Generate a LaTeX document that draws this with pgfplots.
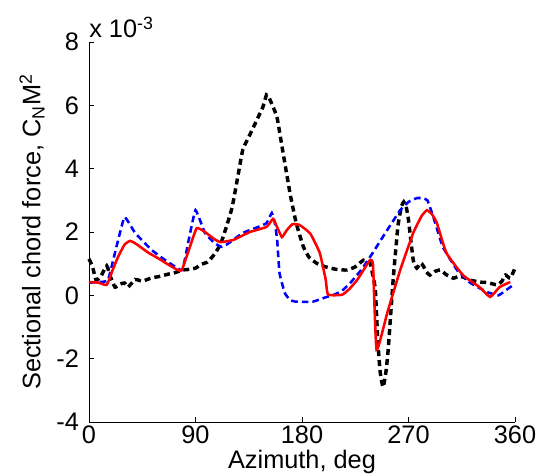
\documentclass[border=0pt]{standalone}
\usepackage{pgfplots}
\pgfplotsset{compat=1.18}
\usepackage{fontspec}
\setmainfont{Liberation Sans}
\begin{document}
\fontsize{19}{22}\selectfont
\begin{tikzpicture}
\begin{axis}[
  at={(0,0)}, anchor=south west,
  scale only axis, width=319.5pt, height=285pt,
  xmin=0, xmax=360, ymin=-4, ymax=8,
  axis x line*=bottom, axis y line*=left,
  axis line style={-, line width=0.5pt},
  xtick={0,90,180,270,360}, ytick={-4,-2,0,2,4,6,8},
  tick align=inside, major tick length=4pt,
  tick style={black, line width=0.5pt},
  /pgf/number format/assume math mode=true,
  ticklabel style={font=\fontsize{19}{22}\selectfont},
  xticklabel style={inner sep=1pt, yshift=-1.5pt},
  yticklabel style={xshift=-1pt},
  label style={font=\fontsize{19}{22}\selectfont},
  xlabel={Azimuth, deg},
  ylabel={Sectional chord force, C\textsubscript{N}M\textsuperscript{2}},
  xlabel style={inner sep=1pt, yshift=-3pt},
  ylabel style={yshift=-4pt},
  clip=false,
]
\addplot[black, line width=2.6pt, dash pattern=on 4.5pt off 3pt, smooth, tension=0.3] coordinates {
(0,1.15) (3,0.9) (6,0.48) (10,0.6) (15,0.93) (18,0.6) (22,0.26) (26,0.35) (30,0.39) (33,0.26) (39,0.5) (45,0.45) (53,0.55) (60,0.6) (67,0.67) (73,0.72) (79,0.8) (85,0.82) (90,0.86) (95,0.98) (100,1.05) (105,1.25) (111,1.6) (116,2.15) (121,2.79) (126,3.8) (130,4.6) (135,5.0) (139,5.31) (144.5,5.75) (147,5.95) (150,6.33) (152,6.25) (155,6.0) (159,5.6) (164,4.5) (170,3.2) (175,2.3) (181,1.55) (186,1.2) (193,1.0) (200,0.9) (209,0.82) (218,0.8) (225,0.9) (232,1.11) (237.5,1.02) (240,0.6) (242,0.17) (244,-1.41) (246,-2.4) (248.5,-2.9) (251,-2.4) (253,-1.64) (257,0.48) (261,2.16) (264,2.8) (266,2.95) (268,2.8) (270,2.38) (274,1.11) (277,0.86) (280,1.02) (282,0.96) (285,0.75) (288,0.64) (292,0.75) (297,0.8) (302,0.65) (308,0.54) (312,0.6) (316,0.58) (322,0.48) (330,0.42) (337,0.4) (345,0.33) (349,0.45) (352,0.64) (356,0.54) (360,0.86)
};
\addplot[blue, line width=1.9pt, dash pattern=on 5pt off 3pt, smooth, tension=0.2] coordinates {
(0,0.4) (8,0.42) (16,0.48) (23,1.5) (30,2.47) (39,1.97) (53,1.43) (63,1.15) (73,0.9) (79,0.8) (84,1.7) (90,2.69) (98,1.97) (106,1.65) (112,1.53) (117,1.62) (130,1.97) (143,2.16) (150,2.28) (154.5,2.6) (157,2.3) (159,1.75) (161,0.7) (165.5,0.07) (170,-0.15) (175,-0.2) (189,-0.2) (201,-0.05) (206,0) (214,0.15) (221,0.4) (230,0.8) (237.5,1.21) (245,1.65) (252,2.06) (263,2.69) (270,2.95) (277,3.07) (282,3.07) (286,3.0) (291,2.47) (299,1.53) (311,0.8) (322,0.4) (336,0.11) (346,0) (356,0.26) (360,0.35)
};
\addplot[red, line width=1.9pt, smooth, tension=0.25] coordinates {
(0,0.42) (8,0.4) (15,0.33) (20,0.8) (24.5,1.21) (30,1.6) (34.7,1.72) (40,1.62) (50,1.35) (58,1.18) (67,0.97) (75,0.8) (78.5,0.8) (85,1.5) (91,2.12) (98,2.0) (105,1.8) (111,1.68) (122,1.75) (136,2.0) (150,2.16) (155.5,2.41) (159,2.15) (163,1.84) (167,2.05) (172,2.25) (178,2.22) (187,1.95) (195,1.34) (200,0.5) (202,0.02) (214,0.02) (220,0.2) (226.5,0.48) (232,0.8) (237.5,1.11) (240,0.96) (243,-1.72) (252,-0.56) (263,0.8) (274,1.97) (281,2.5) (285.6,2.69) (290,2.55) (294,2.28) (302,1.34) (316,0.64) (330,0.26) (339,-0.05) (347,0.26) (356,0.42)
};
\node[anchor=base west, inner sep=0pt] at ([yshift=3pt]rel axis cs:0,1) {x 10\textsuperscript{-3}};
\end{axis}
\pgfresetboundingbox
\path[use as bounding box] (-66.75pt,-39.75pt) rectangle (336.75pt,316.5pt);
\end{tikzpicture}
\end{document}
